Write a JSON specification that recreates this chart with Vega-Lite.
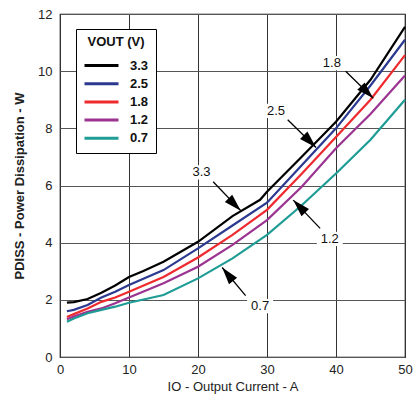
{
  "$schema": "https://vega.github.io/schema/vega-lite/v6.json",
  "width": 345,
  "height": 343,
  "autosize": {"type": "none"},
  "padding": {"left": 60, "top": 14, "right": 12, "bottom": 45},
  "background": "white",
  "config": {
    "font": "Liberation Sans",
    "view": {"stroke": "black", "strokeWidth": 1.2},
    "axis": {"labelFont": "Liberation Sans", "titleFont": "Liberation Sans", "labelFontSize": 13, "titleFontSize": 13, "labelColor": "#222", "titleColor": "#222", "domain": false, "ticks": false, "labelFlush": false}
  },
  "datasets": {
    "curves": [
      {"v": "3.3", "io": 1, "p": 1.9}, {"v": "3.3", "io": 2, "p": 1.92}, {"v": "3.3", "io": 4, "p": 2.03}, {"v": "3.3", "io": 6, "p": 2.25}, {"v": "3.3", "io": 8, "p": 2.5}, {"v": "3.3", "io": 10, "p": 2.8}, {"v": "3.3", "io": 12, "p": 3.0}, {"v": "3.3", "io": 15, "p": 3.33}, {"v": "3.3", "io": 20, "p": 4.03}, {"v": "3.3", "io": 25, "p": 4.93}, {"v": "3.3", "io": 29, "p": 5.5}, {"v": "3.3", "io": 30, "p": 5.78}, {"v": "3.3", "io": 35, "p": 7.0}, {"v": "3.3", "io": 40, "p": 8.23}, {"v": "3.3", "io": 45, "p": 9.7}, {"v": "3.3", "io": 50, "p": 11.55},
      {"v": "2.5", "io": 1, "p": 1.6}, {"v": "2.5", "io": 2, "p": 1.65}, {"v": "2.5", "io": 4, "p": 1.82}, {"v": "2.5", "io": 6, "p": 2.08}, {"v": "2.5", "io": 8, "p": 2.28}, {"v": "2.5", "io": 10, "p": 2.52}, {"v": "2.5", "io": 15, "p": 3.04}, {"v": "2.5", "io": 20, "p": 3.8}, {"v": "2.5", "io": 25, "p": 4.6}, {"v": "2.5", "io": 30, "p": 5.4}, {"v": "2.5", "io": 35, "p": 6.7}, {"v": "2.5", "io": 40, "p": 8.0}, {"v": "2.5", "io": 45, "p": 9.5}, {"v": "2.5", "io": 50, "p": 11.1},
      {"v": "1.8", "io": 1, "p": 1.4}, {"v": "1.8", "io": 2, "p": 1.5}, {"v": "1.8", "io": 4, "p": 1.7}, {"v": "1.8", "io": 6, "p": 1.93}, {"v": "1.8", "io": 8, "p": 2.08}, {"v": "1.8", "io": 10, "p": 2.28}, {"v": "1.8", "io": 15, "p": 2.8}, {"v": "1.8", "io": 20, "p": 3.48}, {"v": "1.8", "io": 25, "p": 4.27}, {"v": "1.8", "io": 30, "p": 5.15}, {"v": "1.8", "io": 35, "p": 6.4}, {"v": "1.8", "io": 40, "p": 7.7}, {"v": "1.8", "io": 45, "p": 9.0}, {"v": "1.8", "io": 50, "p": 10.56},
      {"v": "1.2", "io": 1, "p": 1.32}, {"v": "1.2", "io": 2, "p": 1.42}, {"v": "1.2", "io": 4, "p": 1.58}, {"v": "1.2", "io": 6, "p": 1.7}, {"v": "1.2", "io": 8, "p": 1.88}, {"v": "1.2", "io": 10, "p": 2.08}, {"v": "1.2", "io": 15, "p": 2.58}, {"v": "1.2", "io": 20, "p": 3.16}, {"v": "1.2", "io": 25, "p": 3.92}, {"v": "1.2", "io": 30, "p": 4.79}, {"v": "1.2", "io": 35, "p": 5.95}, {"v": "1.2", "io": 40, "p": 7.3}, {"v": "1.2", "io": 45, "p": 8.5}, {"v": "1.2", "io": 50, "p": 9.85},
      {"v": "0.7", "io": 1, "p": 1.23}, {"v": "0.7", "io": 2, "p": 1.35}, {"v": "0.7", "io": 4, "p": 1.53}, {"v": "0.7", "io": 6, "p": 1.65}, {"v": "0.7", "io": 8, "p": 1.76}, {"v": "0.7", "io": 10, "p": 1.9}, {"v": "0.7", "io": 15, "p": 2.17}, {"v": "0.7", "io": 20, "p": 2.75}, {"v": "0.7", "io": 25, "p": 3.45}, {"v": "0.7", "io": 30, "p": 4.27}, {"v": "0.7", "io": 35, "p": 5.3}, {"v": "0.7", "io": 40, "p": 6.42}, {"v": "0.7", "io": 45, "p": 7.6}, {"v": "0.7", "io": 50, "p": 9.0}
    ],
    "notes": [
      {"label": "1.8", "lx": 39.4, "ly": 10.28, "tx": 41.4, "ty": 10.0, "hx": 45.4, "hy": 9.05},
      {"label": "2.5", "lx": 31.3, "ly": 8.61, "tx": 33.0, "ty": 8.3, "hx": 37.1, "hy": 7.33},
      {"label": "3.3", "lx": 20.5, "ly": 6.46, "tx": 22.2, "ty": 6.13, "hx": 26.2, "hy": 5.12},
      {"label": "1.2", "lx": 39.1, "ly": 4.13, "tx": 37.7, "ty": 4.5, "hx": 33.8, "hy": 5.49},
      {"label": "0.7", "lx": 29.0, "ly": 1.78, "tx": 26.9, "ty": 2.15, "hx": 23.5, "hy": 3.13}
    ]
  },
  "layer": [
    {
      "data": {"name": "curves"},
      "mark": {"type": "line", "strokeWidth": 2.2},
      "encoding": {
        "x": {"field": "io", "type": "quantitative", "scale": {"domain": [0, 50]},
              "axis": {"values": [0, 10, 20, 30, 40, 50], "title": "IO - Output Current - A", "titleFontWeight": "normal", "grid": true, "gridColor": "#333", "gridWidth": 1, "labelPadding": 6, "titlePadding": 4}},
        "y": {"field": "p", "type": "quantitative", "scale": {"domain": [0, 12]},
              "axis": {"values": [0, 2, 4, 6, 8, 10, 12], "title": "PDISS - Power Dissipation - W", "titleFontWeight": "bold", "grid": true, "gridColor": "#555", "gridWidth": 1, "labelPadding": 8, "titlePadding": 11}},
        "color": {"field": "v", "type": "nominal",
                  "scale": {"domain": ["3.3", "2.5", "1.8", "1.2", "0.7"], "range": ["#000000", "#2B3990", "#EE2A2F", "#9B3390", "#1E9C95"]},
                  "legend": {"title": "VOUT (V)", "orient": "none", "legendX": 16, "legendY": 15, "fillColor": "white", "strokeColor": "black", "padding": 7,
                             "titleFontSize": 13, "titleFontWeight": "bold", "titleColor": "#111", "titleFont": "Liberation Sans", "titlePadding": 6.5, "titleAnchor": "middle",
                             "labelFontSize": 13, "labelFontWeight": "bold", "labelColor": "#111", "labelFont": "Liberation Sans", "labelOffset": 27,
                             "symbolType": "M-1,0H3", "symbolSize": 289, "symbolStrokeWidth": 3, "symbolFillColor": "transparent", "rowPadding": 1.2}},
        "order": {"field": "io", "type": "quantitative"}
      }
    },
    {
      "data": {"name": "notes"},
      "mark": {"type": "rule", "stroke": "black", "strokeWidth": 1.3},
      "encoding": {
        "x": {"field": "tx", "type": "quantitative"},
        "y": {"field": "ty", "type": "quantitative"},
        "x2": {"field": "hx"},
        "y2": {"field": "hy"}
      }
    },
    {
      "data": {"name": "notes"},
      "transform": [{"filter": "datum.label == '1.8' || datum.label == '2.5' || datum.label == '3.3'"}],
      "mark": {"type": "point", "shape": "M0,0L0.6,2L-0.6,2Z", "size": 300, "filled": true, "fill": "black", "opacity": 1, "strokeWidth": 0, "angle": 135},
      "encoding": {"x": {"field": "hx", "type": "quantitative"}, "y": {"field": "hy", "type": "quantitative"}}
    },
    {
      "data": {"name": "notes"},
      "transform": [{"filter": "datum.label == '1.2'"}],
      "mark": {"type": "point", "shape": "M0,0L0.6,2L-0.6,2Z", "size": 300, "filled": true, "fill": "black", "opacity": 1, "strokeWidth": 0, "angle": 316},
      "encoding": {"x": {"field": "hx", "type": "quantitative"}, "y": {"field": "hy", "type": "quantitative"}}
    },
    {
      "data": {"name": "notes"},
      "transform": [{"filter": "datum.label == '0.7'"}],
      "mark": {"type": "point", "shape": "M0,0L0.6,2L-0.6,2Z", "size": 300, "filled": true, "fill": "black", "opacity": 1, "strokeWidth": 0, "angle": 321},
      "encoding": {"x": {"field": "hx", "type": "quantitative"}, "y": {"field": "hy", "type": "quantitative"}}
    },
    {
      "data": {"name": "notes"},
      "mark": {"type": "point", "shape": "M-1,-0.55H1V0.55H-1Z", "size": 676, "filled": true, "fill": "white", "opacity": 1, "strokeWidth": 0},
      "encoding": {"x": {"field": "lx", "type": "quantitative"}, "y": {"field": "ly", "type": "quantitative"}}
    },
    {
      "data": {"name": "notes"},
      "mark": {"type": "text", "font": "Liberation Sans", "fontSize": 13, "color": "#111", "align": "center", "baseline": "middle"},
      "encoding": {"x": {"field": "lx", "type": "quantitative"}, "y": {"field": "ly", "type": "quantitative"}, "text": {"field": "label"}}
    }
  ]
}
